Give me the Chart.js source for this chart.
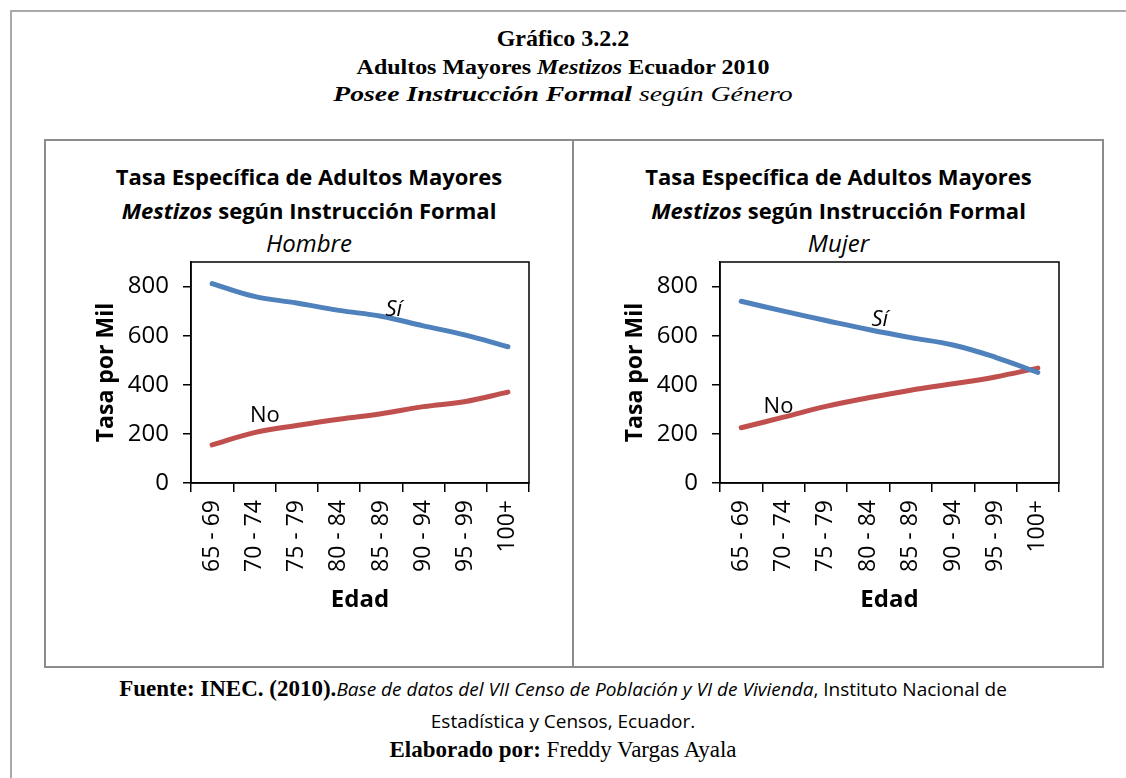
<!DOCTYPE html>
<html>
<head>
<meta charset="utf-8">
<script src="https://cdn.jsdelivr.net/npm/chart.js@4.4.0/dist/chart.umd.min.js"></script>
<style>
  body { margin: 0; background: #fff; width: 1126px; height: 778px; position: relative; overflow: hidden; }
  .abs { position: absolute; }
  .serif { font-family: "Liberation Serif", "DejaVu Serif", serif; color: #000; }
  .sans { font-family: "Open Sans", sans-serif; color: #000; }
  .center { text-align: center; white-space: nowrap; }
  canvas { position: absolute; }
</style>
</head>
<body>
<!-- outer frame -->
<div class="abs" style="left:10px;top:10px;width:1120px;height:780px;border-top:2px solid #aaa;border-left:2px solid #aaa;"></div>

<!-- heading -->
<div class="abs serif center" style="left:0;width:1126px;top:25px;font-size:24px;font-weight:bold;">Gráfico 3.2.2</div>
<div class="abs serif center" style="left:0;width:1126px;top:55px;font-size:21px;font-weight:bold;transform:scaleX(1.14);">Adultos Mayores <i>Mestizos</i> Ecuador 2010</div>
<div class="abs serif center" style="left:0;width:1126px;top:81px;font-size:22px;font-style:italic;transform:scaleX(1.26);"><b>Posee Instrucción Formal</b> según Género</div>

<!-- inner box -->
<div class="abs" style="left:44px;top:139px;width:1060px;height:529px;box-sizing:border-box;border:2px solid #8c8c8c;"></div>
<div class="abs" style="left:572px;top:141px;width:2px;height:525px;background:#8c8c8c;"></div>

<!-- panel titles -->
<div class="abs sans center" style="left:46px;width:526px;top:161px;font-size:22px;font-weight:bold;">Tasa Específica de Adultos Mayores</div>
<div class="abs sans center" style="left:46px;width:526px;top:195px;font-size:22px;font-weight:bold;"><i>Mestizos</i> según Instrucción Formal</div>
<div class="abs sans center" style="left:46px;width:526px;top:226px;font-size:24px;font-style:italic;">Hombre</div>

<div class="abs sans center" style="left:575px;width:527px;top:161px;font-size:22px;font-weight:bold;">Tasa Específica de Adultos Mayores</div>
<div class="abs sans center" style="left:575px;width:527px;top:195px;font-size:22px;font-weight:bold;"><i>Mestizos</i> según Instrucción Formal</div>
<div class="abs sans center" style="left:575px;width:527px;top:226px;font-size:24px;font-style:italic;">Mujer</div>

<canvas id="hombre" width="526" height="525" style="left:46px;top:141px;"></canvas>
<canvas id="mujer" width="527" height="525" style="left:575px;top:141px;"></canvas>

<!-- footer -->
<div class="abs center" style="left:0;width:1126px;top:674px;font-size:19px;line-height:30px;"><span class="serif" style="font-weight:bold;font-size:23px;">Fuente: INEC. (2010).</span><span class="sans"><i>Base de datos del VII Censo de Población y VI de Vivienda</i>, Instituto Nacional de</span></div>
<div class="abs sans center" style="left:0;width:1126px;top:708px;font-size:19px;">Estadística y Censos, Ecuador.</div>
<div class="abs serif center" style="left:0;width:1126px;top:737px;font-size:23px;"><b>Elaborado por:</b> Freddy Vargas Ayala</div>

<script>
const edades = ["65 - 69", "70 - 74", "75 - 79", "80 - 84", "85 - 89", "90 - 94", "95 - 99", "100+"];

// tasa por mil, Hombre
const hombreSi = [812, 760, 733, 703, 679, 640, 602, 555];
const hombreNo = [155, 205, 234, 260, 282, 311, 332, 370];

// tasa por mil, Mujer
const mujerSi = [740, 700, 662, 625, 592, 562, 512, 450];
const mujerNo = [225, 268, 312, 347, 378, 404, 432, 468];

const yTicks = [0, 200, 400, 600, 800];

const AZUL = "#4f81bd";
const ROJO = "#c0504d";
const FONT = "'Open Sans', sans-serif";

// black box around the plot area
const framePlugin = {
  id: "frame",
  afterDraw(chart) {
    const { ctx, chartArea: a } = chart;
    ctx.save();
    ctx.strokeStyle = "#000";
    ctx.lineWidth = 1.5;
    ctx.strokeRect(a.left, a.top, a.right - a.left, a.bottom - a.top);
    ctx.restore();
  },
};

// "Sí" / "No" labels next to the lines
const lineLabels = {
  id: "lineLabels",
  afterDatasetsDraw(chart, args, opts) {
    const { ctx, scales } = chart;
    ctx.save();
    ctx.fillStyle = "#000";
    ctx.textAlign = "center";
    ctx.textBaseline = "middle";
    (opts.items || []).forEach((it) => {
      ctx.font = (it.italic ? "italic " : "") + "22px " + FONT;
      ctx.fillText(it.text, scales.x.getPixelForValue(it.idx), scales.y.getPixelForValue(it.val));
    });
    ctx.restore();
  },
};

function makeChart(id, si, no, labelItems) {
  return new Chart(document.getElementById(id), {
    type: "line",
    data: {
      labels: edades,
      datasets: [
        { label: "Sí", data: si, borderColor: AZUL },
        { label: "No", data: no, borderColor: ROJO },
      ],
    },
    options: {
      responsive: false,
      animation: false,
      layout: { padding: { top: 121, right: 43, left: 0, bottom: 0 } },
      elements: {
        line: { borderWidth: 5, tension: 0.4, borderCapStyle: "round", fill: false },
        point: { radius: 0, hoverRadius: 0 },
      },
      plugins: {
        legend: { display: false },
        tooltip: { enabled: false },
        lineLabels: { items: labelItems },
      },
      scales: {
        x: {
          offset: true,
          grid: { offset: true, drawOnChartArea: false, tickLength: 9, color: "#000", lineWidth: 1.5 },
          border: { color: "#000", width: 1.5 },
          ticks: { minRotation: 90, maxRotation: 90, autoSkip: false, padding: 8, color: "#000", font: { family: FONT, size: 23 } },
          title: { display: true, text: "Edad", color: "#000", font: { family: FONT, size: 24, weight: "bold" }, padding: { top: 0, bottom: 51 } },
          afterFit(scale) { scale.height = 183; },
        },
        y: {
          min: 0,
          max: 900,
          afterBuildTicks(axis) { axis.ticks = yTicks.map((v) => ({ value: v })); },
          grid: { drawOnChartArea: false, tickLength: 8, color: "#000", lineWidth: 1.5 },
          border: { color: "#000", width: 1.5 },
          ticks: { padding: 14, color: "#000", font: { family: FONT, size: 24 } },
          title: { display: true, text: "Tasa por Mil", color: "#000", font: { family: FONT, size: 23, weight: "bold" }, padding: { top: 47, bottom: 0 } },
          afterFit(scale) { scale.width = 145; },
        },
      },
    },
    plugins: [framePlugin, lineLabels],
  });
}

makeChart("hombre", hombreSi, hombreNo, [
  { text: "Sí", idx: 4.3, val: 705, italic: true },
  { text: "No", idx: 1.25, val: 273, italic: false },
]);

makeChart("mujer", mujerSi, mujerNo, [
  { text: "Sí", idx: 3.27, val: 665, italic: true },
  { text: "No", idx: 0.88, val: 312, italic: false },
]);
</script>
</body>
</html>
